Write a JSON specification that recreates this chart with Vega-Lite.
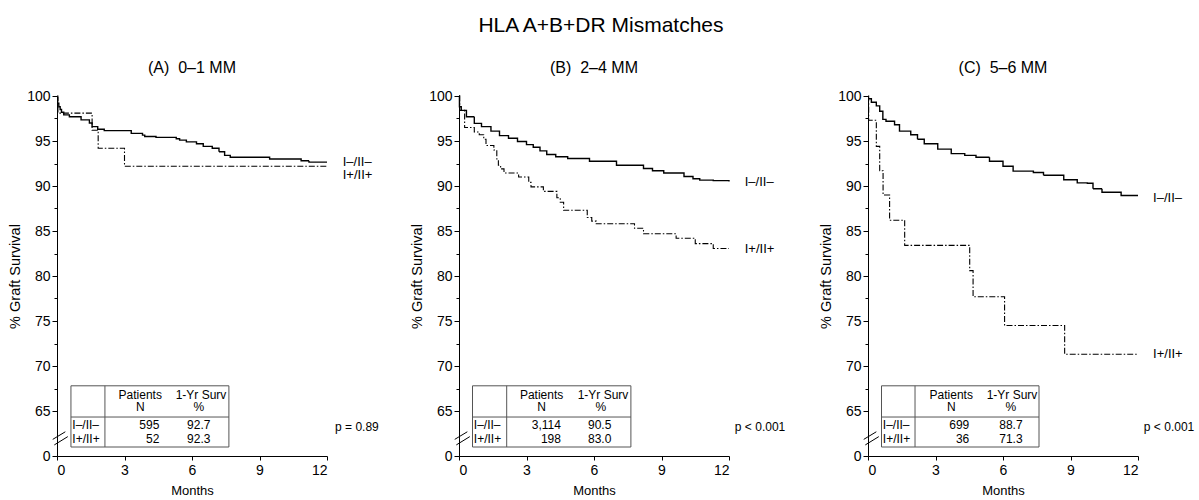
{
  "$schema": "https://vega.github.io/schema/vega-lite/v6.json",
  "padding": {"left": 7, "top": 15, "right": 5, "bottom": 3},
  "background": "white",
  "title": {"text": "HLA A+B+DR Mismatches", "fontSize": 21, "fontWeight": "normal", "font": "Liberation Sans", "anchor": "middle", "offset": 24, "color": "#000"},
  "config": {
    "font": "Liberation Sans",
    "view": {"stroke": null},
    "axis": {"grid": false, "domainColor": "#000", "tickColor": "#000", "labelColor": "#000", "titleColor": "#000", "labelFontSize": 14, "titleFontSize": 13, "titleFontWeight": "normal", "labelFont": "Liberation Sans", "titleFont": "Liberation Sans", "domainWidth": 1, "tickWidth": 1, "labelOverlap": false},
    "title": {"fontSize": 16, "fontWeight": "normal", "color": "#000", "offset": 13},
    "text": {"font": "Liberation Sans", "color": "#000"}
  },
  "datasets": {
    "km": [
      {"panel": "A", "group": "I–/II–", "month": 0, "surv": 99.8},
      {"panel": "A", "group": "I–/II–", "month": 0.03, "surv": 99.2},
      {"panel": "A", "group": "I–/II–", "month": 0.08, "surv": 98.8},
      {"panel": "A", "group": "I–/II–", "month": 0.14, "surv": 98.5},
      {"panel": "A", "group": "I–/II–", "month": 0.2, "surv": 98.2},
      {"panel": "A", "group": "I–/II–", "month": 0.3, "surv": 97.9},
      {"panel": "A", "group": "I–/II–", "month": 0.55, "surv": 97.7},
      {"panel": "A", "group": "I–/II–", "month": 1.07, "surv": 97.35},
      {"panel": "A", "group": "I–/II–", "month": 1.44, "surv": 97.0},
      {"panel": "A", "group": "I–/II–", "month": 1.56, "surv": 96.6},
      {"panel": "A", "group": "I–/II–", "month": 1.81, "surv": 96.3},
      {"panel": "A", "group": "I–/II–", "month": 2.1, "surv": 96.15},
      {"panel": "A", "group": "I–/II–", "month": 3.3, "surv": 95.85},
      {"panel": "A", "group": "I–/II–", "month": 3.8, "surv": 95.65},
      {"panel": "A", "group": "I–/II–", "month": 3.9, "surv": 95.5},
      {"panel": "A", "group": "I–/II–", "month": 4.4, "surv": 95.4},
      {"panel": "A", "group": "I–/II–", "month": 5.3, "surv": 95.25},
      {"panel": "A", "group": "I–/II–", "month": 5.45, "surv": 95.1},
      {"panel": "A", "group": "I–/II–", "month": 5.75, "surv": 94.9},
      {"panel": "A", "group": "I–/II–", "month": 6.2, "surv": 94.7},
      {"panel": "A", "group": "I–/II–", "month": 6.5, "surv": 94.4},
      {"panel": "A", "group": "I–/II–", "month": 6.9, "surv": 94.2},
      {"panel": "A", "group": "I–/II–", "month": 7.2, "surv": 93.8},
      {"panel": "A", "group": "I–/II–", "month": 7.45, "surv": 93.4},
      {"panel": "A", "group": "I–/II–", "month": 7.7, "surv": 93.2},
      {"panel": "A", "group": "I–/II–", "month": 9.45, "surv": 93.0},
      {"panel": "A", "group": "I–/II–", "month": 10.85, "surv": 92.8},
      {"panel": "A", "group": "I–/II–", "month": 11.2, "surv": 92.65},
      {"panel": "A", "group": "I–/II–", "month": 12, "surv": 92.65},
      {"panel": "A", "group": "I+/II+", "month": 0, "surv": 100},
      {"panel": "A", "group": "I+/II+", "month": 0.04, "surv": 98.1},
      {"panel": "A", "group": "I+/II+", "month": 1.56, "surv": 96.2},
      {"panel": "A", "group": "I+/II+", "month": 1.83, "surv": 94.2},
      {"panel": "A", "group": "I+/II+", "month": 3.0, "surv": 92.2},
      {"panel": "A", "group": "I+/II+", "month": 12, "surv": 92.2},
      {"panel": "B", "group": "I–/II–", "month": 0, "surv": 100},
      {"panel": "B", "group": "I–/II–", "month": 0.02, "surv": 98.8},
      {"panel": "B", "group": "I–/II–", "month": 0.1, "surv": 98.4},
      {"panel": "B", "group": "I–/II–", "month": 0.33, "surv": 97.7},
      {"panel": "B", "group": "I–/II–", "month": 0.68, "surv": 96.96},
      {"panel": "B", "group": "I–/II–", "month": 1.0, "surv": 96.6},
      {"panel": "B", "group": "I–/II–", "month": 1.42, "surv": 96.1},
      {"panel": "B", "group": "I–/II–", "month": 1.8, "surv": 95.6},
      {"panel": "B", "group": "I–/II–", "month": 2.2, "surv": 95.3},
      {"panel": "B", "group": "I–/II–", "month": 2.6, "surv": 94.95},
      {"panel": "B", "group": "I–/II–", "month": 3.0, "surv": 94.6},
      {"panel": "B", "group": "I–/II–", "month": 3.3, "surv": 94.3},
      {"panel": "B", "group": "I–/II–", "month": 3.6, "surv": 93.9},
      {"panel": "B", "group": "I–/II–", "month": 3.9, "surv": 93.5},
      {"panel": "B", "group": "I–/II–", "month": 4.3, "surv": 93.25},
      {"panel": "B", "group": "I–/II–", "month": 4.83, "surv": 93.05},
      {"panel": "B", "group": "I–/II–", "month": 5.8, "surv": 92.75},
      {"panel": "B", "group": "I–/II–", "month": 7.0, "surv": 92.3},
      {"panel": "B", "group": "I–/II–", "month": 8.2, "surv": 91.95},
      {"panel": "B", "group": "I–/II–", "month": 8.6, "surv": 91.7},
      {"panel": "B", "group": "I–/II–", "month": 9.1, "surv": 91.45},
      {"panel": "B", "group": "I–/II–", "month": 10.0, "surv": 91.05},
      {"panel": "B", "group": "I–/II–", "month": 10.4, "surv": 90.8},
      {"panel": "B", "group": "I–/II–", "month": 10.7, "surv": 90.65},
      {"panel": "B", "group": "I–/II–", "month": 11.3, "surv": 90.6},
      {"panel": "B", "group": "I–/II–", "month": 12, "surv": 90.5},
      {"panel": "B", "group": "I+/II+", "month": 0, "surv": 100},
      {"panel": "B", "group": "I+/II+", "month": 0.03, "surv": 98.4},
      {"panel": "B", "group": "I+/II+", "month": 0.25, "surv": 96.5},
      {"panel": "B", "group": "I+/II+", "month": 0.68, "surv": 96.0},
      {"panel": "B", "group": "I+/II+", "month": 0.9, "surv": 95.7},
      {"panel": "B", "group": "I+/II+", "month": 1.1, "surv": 95.2},
      {"panel": "B", "group": "I+/II+", "month": 1.2, "surv": 94.5},
      {"panel": "B", "group": "I+/II+", "month": 1.55, "surv": 94.0},
      {"panel": "B", "group": "I+/II+", "month": 1.68, "surv": 93.0},
      {"panel": "B", "group": "I+/II+", "month": 1.75, "surv": 92.3},
      {"panel": "B", "group": "I+/II+", "month": 1.85, "surv": 91.9},
      {"panel": "B", "group": "I+/II+", "month": 2.0, "surv": 91.45},
      {"panel": "B", "group": "I+/II+", "month": 2.65, "surv": 91.0},
      {"panel": "B", "group": "I+/II+", "month": 3.1, "surv": 90.4},
      {"panel": "B", "group": "I+/II+", "month": 3.2, "surv": 89.9},
      {"panel": "B", "group": "I+/II+", "month": 3.75, "surv": 89.4},
      {"panel": "B", "group": "I+/II+", "month": 4.35, "surv": 88.7},
      {"panel": "B", "group": "I+/II+", "month": 4.5, "surv": 88.2},
      {"panel": "B", "group": "I+/II+", "month": 4.65, "surv": 87.3},
      {"panel": "B", "group": "I+/II+", "month": 5.7, "surv": 86.5},
      {"panel": "B", "group": "I+/II+", "month": 5.9, "surv": 86.1},
      {"panel": "B", "group": "I+/II+", "month": 6.1, "surv": 85.8},
      {"panel": "B", "group": "I+/II+", "month": 7.8, "surv": 85.3},
      {"panel": "B", "group": "I+/II+", "month": 8.2, "surv": 84.7},
      {"panel": "B", "group": "I+/II+", "month": 9.65, "surv": 84.2},
      {"panel": "B", "group": "I+/II+", "month": 10.5, "surv": 83.6},
      {"panel": "B", "group": "I+/II+", "month": 11.3, "surv": 83.05},
      {"panel": "B", "group": "I+/II+", "month": 12, "surv": 83.05},
      {"panel": "C", "group": "I–/II–", "month": 0, "surv": 99.7},
      {"panel": "C", "group": "I–/II–", "month": 0.15, "surv": 99.3},
      {"panel": "C", "group": "I–/II–", "month": 0.37, "surv": 98.9},
      {"panel": "C", "group": "I–/II–", "month": 0.52, "surv": 98.3},
      {"panel": "C", "group": "I–/II–", "month": 0.66, "surv": 97.4},
      {"panel": "C", "group": "I–/II–", "month": 0.8, "surv": 97.2},
      {"panel": "C", "group": "I–/II–", "month": 1.18, "surv": 96.8},
      {"panel": "C", "group": "I–/II–", "month": 1.4, "surv": 96.1},
      {"panel": "C", "group": "I–/II–", "month": 1.9, "surv": 95.7},
      {"panel": "C", "group": "I–/II–", "month": 2.2, "surv": 95.2},
      {"panel": "C", "group": "I–/II–", "month": 2.5, "surv": 94.7},
      {"panel": "C", "group": "I–/II–", "month": 3.1, "surv": 94.1},
      {"panel": "C", "group": "I–/II–", "month": 3.7, "surv": 93.6},
      {"panel": "C", "group": "I–/II–", "month": 4.3, "surv": 93.4},
      {"panel": "C", "group": "I–/II–", "month": 4.8, "surv": 93.2},
      {"panel": "C", "group": "I–/II–", "month": 5.4, "surv": 92.75},
      {"panel": "C", "group": "I–/II–", "month": 6.0, "surv": 92.2},
      {"panel": "C", "group": "I–/II–", "month": 6.45, "surv": 91.65},
      {"panel": "C", "group": "I–/II–", "month": 7.35, "surv": 91.5},
      {"panel": "C", "group": "I–/II–", "month": 7.8, "surv": 91.2},
      {"panel": "C", "group": "I–/II–", "month": 8.7, "surv": 90.7},
      {"panel": "C", "group": "I–/II–", "month": 9.3, "surv": 90.35},
      {"panel": "C", "group": "I–/II–", "month": 9.75, "surv": 90.3},
      {"panel": "C", "group": "I–/II–", "month": 10.0, "surv": 89.7},
      {"panel": "C", "group": "I–/II–", "month": 10.4, "surv": 89.3},
      {"panel": "C", "group": "I–/II–", "month": 11.2, "surv": 89.3},
      {"panel": "C", "group": "I–/II–", "month": 11.25, "surv": 88.95},
      {"panel": "C", "group": "I–/II–", "month": 12, "surv": 88.95},
      {"panel": "C", "group": "I+/II+", "month": 0, "surv": 100},
      {"panel": "C", "group": "I+/II+", "month": 0.03, "surv": 97.3},
      {"panel": "C", "group": "I+/II+", "month": 0.37, "surv": 94.4},
      {"panel": "C", "group": "I+/II+", "month": 0.52, "surv": 91.7},
      {"panel": "C", "group": "I+/II+", "month": 0.67, "surv": 89.0},
      {"panel": "C", "group": "I+/II+", "month": 0.96, "surv": 86.2},
      {"panel": "C", "group": "I+/II+", "month": 1.63, "surv": 83.4},
      {"panel": "C", "group": "I+/II+", "month": 4.52, "surv": 80.6},
      {"panel": "C", "group": "I+/II+", "month": 4.67, "surv": 77.7},
      {"panel": "C", "group": "I+/II+", "month": 6.07, "surv": 74.5},
      {"panel": "C", "group": "I+/II+", "month": 8.74, "surv": 71.3},
      {"panel": "C", "group": "I+/II+", "month": 12, "surv": 71.3}
    ],
    "tab": [
      {"panel": "A", "group": "I–/II–", "n": "595", "surv": 92.7},
      {"panel": "A", "group": "I+/II+", "n": "52", "surv": 92.3},
      {"panel": "B", "group": "I–/II–", "n": "3,114", "surv": 90.5},
      {"panel": "B", "group": "I+/II+", "n": "198", "surv": 83.0},
      {"panel": "C", "group": "I–/II–", "n": "699", "surv": 88.7},
      {"panel": "C", "group": "I+/II+", "n": "36", "surv": 71.3}
    ]
  },
  "spacing": 132,
  "bounds": "flush",
  "hconcat": [
    {
      "title": {"text": "(A)\u00a0\u00a00–1 MM"},
      "width": 270, "height": 360,
      "layer": [
        {"data": {"name": "km"}, "transform": [{"filter": "datum.panel === 'A'"}],
         "mark": {"type": "line", "interpolate": "step-after", "color": "#000"},
         "encoding": {
           "x": {"field": "month", "type": "quantitative", "scale": {"domain": [0, 12], "nice": false, "zero": false}, "axis": {"values": [0, 3, 6, 9, 12], "title": "Months", "tickSize": 4, "labelPadding": 3, "titlePadding": 7}},
           "y": {"field": "surv", "type": "quantitative", "scale": {"domain": [0, 65, 100], "range": [360, 315, 0], "nice": false, "zero": false}, "axis": {"values": [0, 65, 67.5, 70, 72.5, 75, 77.5, 80, 82.5, 85, 87.5, 90, 92.5, 95, 97.5, 100], "tickCount": 40, "labelExpr": "datum.value % 5 === 0 ? datum.label : ''", "labelOverlap": false, "tickSize": {"condition": {"test": "datum.value % 5 !== 0", "value": 3}, "value": 5}, "title": "% Graft Survival", "titleFontSize": 14.5, "titlePadding": 4, "labelPadding": 2}},
           "strokeDash": {"field": "group", "type": "nominal", "scale": {"domain": ["I–/II–", "I+/II+"], "range": [[1, 0], [6, 2, 1.5, 2]]}, "legend": null},
           "strokeWidth": {"field": "group", "type": "nominal", "scale": {"domain": ["I–/II–", "I+/II+"], "range": [1.4, 1.1]}, "legend": null}
         }},
        {"data": {"values": [{}]}, "mark": {"type": "rule", "color": "#000", "strokeWidth": 1}, "encoding": {"x": {"datum": -0.19}, "x2": {"datum": 0.37}, "y": {"datum": 24}, "y2": {"datum": 35}}},
        {"data": {"values": [{}]}, "mark": {"type": "rule", "color": "#000", "strokeWidth": 1}, "encoding": {"x": {"datum": -0.12}, "x2": {"datum": 0.48}, "y": {"datum": 16}, "y2": {"datum": 28}}},
        {"data": {"values": [{}]}, "mark": {"type": "rect", "fill": "white", "stroke": "#555", "strokeWidth": 1}, "encoding": {"x": {"datum": 0.62}, "x2": {"datum": 7.64}, "y": {"datum": 67.8}, "y2": {"datum": 13}}},
        {"data": {"values": [{}]}, "mark": {"type": "rule", "color": "#555", "strokeWidth": 1}, "encoding": {"x": {"datum": 2.13}, "y": {"datum": 67.8}, "y2": {"datum": 13}}},
        {"data": {"values": [{}]}, "mark": {"type": "rule", "color": "#555", "strokeWidth": 1}, "encoding": {"x": {"datum": 0.62}, "x2": {"datum": 7.64}, "y": {"datum": 56.3}}},
        {"data": {"values": [{}]}, "mark": {"type": "text", "text": "Patients", "fontSize": 12, "align": "center", "baseline": "middle"}, "encoding": {"x": {"datum": 3.7}, "y": {"datum": 66.8}}},
        {"data": {"values": [{}]}, "mark": {"type": "text", "text": "N", "fontSize": 12, "align": "center", "baseline": "middle"}, "encoding": {"x": {"datum": 3.7}, "y": {"datum": 65.5}}},
        {"data": {"values": [{}]}, "mark": {"type": "text", "text": "1-Yr Surv", "fontSize": 12, "align": "center", "baseline": "middle"}, "encoding": {"x": {"datum": 6.4}, "y": {"datum": 66.8}}},
        {"data": {"values": [{}]}, "mark": {"type": "text", "text": "%", "fontSize": 12, "align": "center", "baseline": "middle"}, "encoding": {"x": {"datum": 6.3}, "y": {"datum": 65.5}}},
        {"data": {"name": "tab"}, "transform": [{"filter": "datum.panel === 'A' && datum.group === 'I–/II–'"}], "mark": {"type": "text", "fontSize": 12, "align": "left", "baseline": "middle"}, "encoding": {"x": {"datum": 0.68}, "y": {"datum": 44.8}, "text": {"field": "group"}}},
        {"data": {"name": "tab"}, "transform": [{"filter": "datum.panel === 'A' && datum.group === 'I–/II–'"}], "mark": {"type": "text", "fontSize": 12, "align": "right", "baseline": "middle"}, "encoding": {"x": {"datum": 4.55}, "y": {"datum": 44.8}, "text": {"field": "n"}}},
        {"data": {"name": "tab"}, "transform": [{"filter": "datum.panel === 'A' && datum.group === 'I–/II–'"}], "mark": {"type": "text", "fontSize": 12, "align": "center", "baseline": "middle"}, "encoding": {"x": {"datum": 6.3}, "y": {"datum": 44.8}, "text": {"field": "surv", "type": "quantitative", "format": ".1f"}}},
        {"data": {"name": "tab"}, "transform": [{"filter": "datum.panel === 'A' && datum.group === 'I+/II+'"}], "mark": {"type": "text", "fontSize": 12, "align": "left", "baseline": "middle"}, "encoding": {"x": {"datum": 0.68}, "y": {"datum": 24.6}, "text": {"field": "group"}}},
        {"data": {"name": "tab"}, "transform": [{"filter": "datum.panel === 'A' && datum.group === 'I+/II+'"}], "mark": {"type": "text", "fontSize": 12, "align": "right", "baseline": "middle"}, "encoding": {"x": {"datum": 4.55}, "y": {"datum": 24.6}, "text": {"field": "n"}}},
        {"data": {"name": "tab"}, "transform": [{"filter": "datum.panel === 'A' && datum.group === 'I+/II+'"}], "mark": {"type": "text", "fontSize": 12, "align": "center", "baseline": "middle"}, "encoding": {"x": {"datum": 6.3}, "y": {"datum": 24.6}, "text": {"field": "surv", "type": "quantitative", "format": ".1f"}}},
        {"data": {"name": "tab"}, "transform": [{"filter": "datum.panel === 'A' && datum.group === 'I–/II–'"}], "mark": {"type": "text", "fontSize": 13, "align": "left", "baseline": "middle", "dy": 0}, "encoding": {"x": {"datum": 12.7}, "y": {"field": "surv", "type": "quantitative"}, "text": {"field": "group"}}},
        {"data": {"name": "tab"}, "transform": [{"filter": "datum.panel === 'A' && datum.group === 'I+/II+'"}], "mark": {"type": "text", "fontSize": 13, "align": "left", "baseline": "middle", "dy": 10}, "encoding": {"x": {"datum": 12.7}, "y": {"field": "surv", "type": "quantitative"}, "text": {"field": "group"}}},
        {"data": {"values": [{}]}, "mark": {"type": "text", "text": "p = 0.89", "fontSize": 12, "align": "right", "baseline": "middle"}, "encoding": {"x": {"datum": 14.3}, "y": {"datum": 42}}}
      ]
    },
    {
      "spacing": 139,
      "bounds": "flush",
      "hconcat": [
        {
          "title": {"text": "(B)\u00a0\u00a02–4 MM"},
          "width": 270, "height": 360,
          "layer": [
            {"data": {"name": "km"}, "transform": [{"filter": "datum.panel === 'B'"}],
             "mark": {"type": "line", "interpolate": "step-after", "color": "#000"},
             "encoding": {
               "x": {"field": "month", "type": "quantitative", "scale": {"domain": [0, 12], "nice": false, "zero": false}, "axis": {"values": [0, 3, 6, 9, 12], "title": "Months", "tickSize": 4, "labelPadding": 3, "titlePadding": 7}},
               "y": {"field": "surv", "type": "quantitative", "scale": {"domain": [0, 65, 100], "range": [360, 315, 0], "nice": false, "zero": false}, "axis": {"values": [0, 65, 67.5, 70, 72.5, 75, 77.5, 80, 82.5, 85, 87.5, 90, 92.5, 95, 97.5, 100], "tickCount": 40, "labelExpr": "datum.value % 5 === 0 ? datum.label : ''", "labelOverlap": false, "tickSize": {"condition": {"test": "datum.value % 5 !== 0", "value": 3}, "value": 5}, "title": "% Graft Survival", "titleFontSize": 14.5, "titlePadding": 4, "labelPadding": 2}},
               "strokeDash": {"field": "group", "type": "nominal", "scale": {"domain": ["I–/II–", "I+/II+"], "range": [[1, 0], [6, 2, 1.5, 2]]}, "legend": null},
               "strokeWidth": {"field": "group", "type": "nominal", "scale": {"domain": ["I–/II–", "I+/II+"], "range": [1.4, 1.1]}, "legend": null}
             }},
            {"data": {"values": [{}]}, "mark": {"type": "rule", "color": "#000", "strokeWidth": 1}, "encoding": {"x": {"datum": -0.19}, "x2": {"datum": 0.37}, "y": {"datum": 24}, "y2": {"datum": 35}}},
            {"data": {"values": [{}]}, "mark": {"type": "rule", "color": "#000", "strokeWidth": 1}, "encoding": {"x": {"datum": -0.12}, "x2": {"datum": 0.48}, "y": {"datum": 16}, "y2": {"datum": 28}}},
            {"data": {"values": [{}]}, "mark": {"type": "rect", "fill": "white", "stroke": "#555", "strokeWidth": 1}, "encoding": {"x": {"datum": 0.6}, "x2": {"datum": 7.64}, "y": {"datum": 67.8}, "y2": {"datum": 13}}},
            {"data": {"values": [{}]}, "mark": {"type": "rule", "color": "#555", "strokeWidth": 1}, "encoding": {"x": {"datum": 2.12}, "y": {"datum": 67.8}, "y2": {"datum": 13}}},
            {"data": {"values": [{}]}, "mark": {"type": "rule", "color": "#555", "strokeWidth": 1}, "encoding": {"x": {"datum": 0.6}, "x2": {"datum": 7.64}, "y": {"datum": 56.3}}},
            {"data": {"values": [{}]}, "mark": {"type": "text", "text": "Patients", "fontSize": 12, "align": "center", "baseline": "middle"}, "encoding": {"x": {"datum": 3.67}, "y": {"datum": 66.8}}},
            {"data": {"values": [{}]}, "mark": {"type": "text", "text": "N", "fontSize": 12, "align": "center", "baseline": "middle"}, "encoding": {"x": {"datum": 3.67}, "y": {"datum": 65.5}}},
            {"data": {"values": [{}]}, "mark": {"type": "text", "text": "1-Yr Surv", "fontSize": 12, "align": "center", "baseline": "middle"}, "encoding": {"x": {"datum": 6.4}, "y": {"datum": 66.8}}},
            {"data": {"values": [{}]}, "mark": {"type": "text", "text": "%", "fontSize": 12, "align": "center", "baseline": "middle"}, "encoding": {"x": {"datum": 6.3}, "y": {"datum": 65.5}}},
            {"data": {"name": "tab"}, "transform": [{"filter": "datum.panel === 'B' && datum.group === 'I–/II–'"}], "mark": {"type": "text", "fontSize": 12, "align": "left", "baseline": "middle"}, "encoding": {"x": {"datum": 0.66}, "y": {"datum": 44.8}, "text": {"field": "group"}}},
            {"data": {"name": "tab"}, "transform": [{"filter": "datum.panel === 'B' && datum.group === 'I–/II–'"}], "mark": {"type": "text", "fontSize": 12, "align": "right", "baseline": "middle"}, "encoding": {"x": {"datum": 4.53}, "y": {"datum": 44.8}, "text": {"field": "n"}}},
            {"data": {"name": "tab"}, "transform": [{"filter": "datum.panel === 'B' && datum.group === 'I–/II–'"}], "mark": {"type": "text", "fontSize": 12, "align": "center", "baseline": "middle"}, "encoding": {"x": {"datum": 6.25}, "y": {"datum": 44.8}, "text": {"field": "surv", "type": "quantitative", "format": ".1f"}}},
            {"data": {"name": "tab"}, "transform": [{"filter": "datum.panel === 'B' && datum.group === 'I+/II+'"}], "mark": {"type": "text", "fontSize": 12, "align": "left", "baseline": "middle"}, "encoding": {"x": {"datum": 0.66}, "y": {"datum": 24.6}, "text": {"field": "group"}}},
            {"data": {"name": "tab"}, "transform": [{"filter": "datum.panel === 'B' && datum.group === 'I+/II+'"}], "mark": {"type": "text", "fontSize": 12, "align": "right", "baseline": "middle"}, "encoding": {"x": {"datum": 4.53}, "y": {"datum": 24.6}, "text": {"field": "n"}}},
            {"data": {"name": "tab"}, "transform": [{"filter": "datum.panel === 'B' && datum.group === 'I+/II+'"}], "mark": {"type": "text", "fontSize": 12, "align": "center", "baseline": "middle"}, "encoding": {"x": {"datum": 6.25}, "y": {"datum": 24.6}, "text": {"field": "surv", "type": "quantitative", "format": ".1f"}}},
            {"data": {"name": "tab"}, "transform": [{"filter": "datum.panel === 'B'"}], "mark": {"type": "text", "fontSize": 13, "align": "left", "baseline": "middle", "dy": 0}, "encoding": {"x": {"datum": 12.7}, "y": {"field": "surv", "type": "quantitative"}, "text": {"field": "group"}}},
            {"data": {"values": [{}]}, "mark": {"type": "text", "text": "p < 0.001", "fontSize": 12, "align": "right", "baseline": "middle"}, "encoding": {"x": {"datum": 14.5}, "y": {"datum": 42}}}
          ]
        },
        {
          "title": {"text": "(C)\u00a0\u00a05–6 MM"},
          "width": 270, "height": 360,
          "layer": [
            {"data": {"name": "km"}, "transform": [{"filter": "datum.panel === 'C'"}],
             "mark": {"type": "line", "interpolate": "step-after", "color": "#000"},
             "encoding": {
               "x": {"field": "month", "type": "quantitative", "scale": {"domain": [0, 12], "nice": false, "zero": false}, "axis": {"values": [0, 3, 6, 9, 12], "title": "Months", "tickSize": 4, "labelPadding": 3, "titlePadding": 7}},
               "y": {"field": "surv", "type": "quantitative", "scale": {"domain": [0, 65, 100], "range": [360, 315, 0], "nice": false, "zero": false}, "axis": {"values": [0, 65, 67.5, 70, 72.5, 75, 77.5, 80, 82.5, 85, 87.5, 90, 92.5, 95, 97.5, 100], "tickCount": 40, "labelExpr": "datum.value % 5 === 0 ? datum.label : ''", "labelOverlap": false, "tickSize": {"condition": {"test": "datum.value % 5 !== 0", "value": 3}, "value": 5}, "title": "% Graft Survival", "titleFontSize": 14.5, "titlePadding": 4, "labelPadding": 2}},
               "strokeDash": {"field": "group", "type": "nominal", "scale": {"domain": ["I–/II–", "I+/II+"], "range": [[1, 0], [6, 2, 1.5, 2]]}, "legend": null},
               "strokeWidth": {"field": "group", "type": "nominal", "scale": {"domain": ["I–/II–", "I+/II+"], "range": [1.4, 1.1]}, "legend": null}
             }},
            {"data": {"values": [{}]}, "mark": {"type": "rule", "color": "#000", "strokeWidth": 1}, "encoding": {"x": {"datum": -0.19}, "x2": {"datum": 0.37}, "y": {"datum": 24}, "y2": {"datum": 35}}},
            {"data": {"values": [{}]}, "mark": {"type": "rule", "color": "#000", "strokeWidth": 1}, "encoding": {"x": {"datum": -0.12}, "x2": {"datum": 0.48}, "y": {"datum": 16}, "y2": {"datum": 28}}},
            {"data": {"values": [{}]}, "mark": {"type": "rect", "fill": "white", "stroke": "#555", "strokeWidth": 1}, "encoding": {"x": {"datum": 0.6}, "x2": {"datum": 7.6}, "y": {"datum": 67.8}, "y2": {"datum": 13}}},
            {"data": {"values": [{}]}, "mark": {"type": "rule", "color": "#555", "strokeWidth": 1}, "encoding": {"x": {"datum": 2.09}, "y": {"datum": 67.8}, "y2": {"datum": 13}}},
            {"data": {"values": [{}]}, "mark": {"type": "rule", "color": "#555", "strokeWidth": 1}, "encoding": {"x": {"datum": 0.6}, "x2": {"datum": 7.6}, "y": {"datum": 56.3}}},
            {"data": {"values": [{}]}, "mark": {"type": "text", "text": "Patients", "fontSize": 12, "align": "center", "baseline": "middle"}, "encoding": {"x": {"datum": 3.7}, "y": {"datum": 66.8}}},
            {"data": {"values": [{}]}, "mark": {"type": "text", "text": "N", "fontSize": 12, "align": "center", "baseline": "middle"}, "encoding": {"x": {"datum": 3.7}, "y": {"datum": 65.5}}},
            {"data": {"values": [{}]}, "mark": {"type": "text", "text": "1-Yr Surv", "fontSize": 12, "align": "center", "baseline": "middle"}, "encoding": {"x": {"datum": 6.4}, "y": {"datum": 66.8}}},
            {"data": {"values": [{}]}, "mark": {"type": "text", "text": "%", "fontSize": 12, "align": "center", "baseline": "middle"}, "encoding": {"x": {"datum": 6.35}, "y": {"datum": 65.5}}},
            {"data": {"name": "tab"}, "transform": [{"filter": "datum.panel === 'C' && datum.group === 'I–/II–'"}], "mark": {"type": "text", "fontSize": 12, "align": "left", "baseline": "middle"}, "encoding": {"x": {"datum": 0.66}, "y": {"datum": 44.8}, "text": {"field": "group"}}},
            {"data": {"name": "tab"}, "transform": [{"filter": "datum.panel === 'C' && datum.group === 'I–/II–'"}], "mark": {"type": "text", "fontSize": 12, "align": "right", "baseline": "middle"}, "encoding": {"x": {"datum": 4.5}, "y": {"datum": 44.8}, "text": {"field": "n"}}},
            {"data": {"name": "tab"}, "transform": [{"filter": "datum.panel === 'C' && datum.group === 'I–/II–'"}], "mark": {"type": "text", "fontSize": 12, "align": "center", "baseline": "middle"}, "encoding": {"x": {"datum": 6.35}, "y": {"datum": 44.8}, "text": {"field": "surv", "type": "quantitative", "format": ".1f"}}},
            {"data": {"name": "tab"}, "transform": [{"filter": "datum.panel === 'C' && datum.group === 'I+/II+'"}], "mark": {"type": "text", "fontSize": 12, "align": "left", "baseline": "middle"}, "encoding": {"x": {"datum": 0.66}, "y": {"datum": 24.6}, "text": {"field": "group"}}},
            {"data": {"name": "tab"}, "transform": [{"filter": "datum.panel === 'C' && datum.group === 'I+/II+'"}], "mark": {"type": "text", "fontSize": 12, "align": "right", "baseline": "middle"}, "encoding": {"x": {"datum": 4.5}, "y": {"datum": 24.6}, "text": {"field": "n"}}},
            {"data": {"name": "tab"}, "transform": [{"filter": "datum.panel === 'C' && datum.group === 'I+/II+'"}], "mark": {"type": "text", "fontSize": 12, "align": "center", "baseline": "middle"}, "encoding": {"x": {"datum": 6.35}, "y": {"datum": 24.6}, "text": {"field": "surv", "type": "quantitative", "format": ".1f"}}},
            {"data": {"name": "tab"}, "transform": [{"filter": "datum.panel === 'C'"}], "mark": {"type": "text", "fontSize": 13, "align": "left", "baseline": "middle", "dy": 0}, "encoding": {"x": {"datum": 12.67}, "y": {"field": "surv", "type": "quantitative"}, "text": {"field": "group"}}},
            {"data": {"values": [{}]}, "mark": {"type": "text", "text": "p < 0.001", "fontSize": 12, "align": "right", "baseline": "middle"}, "encoding": {"x": {"datum": 14.5}, "y": {"datum": 42}}}
          ]
        }
      ]
    }
  ]
}
